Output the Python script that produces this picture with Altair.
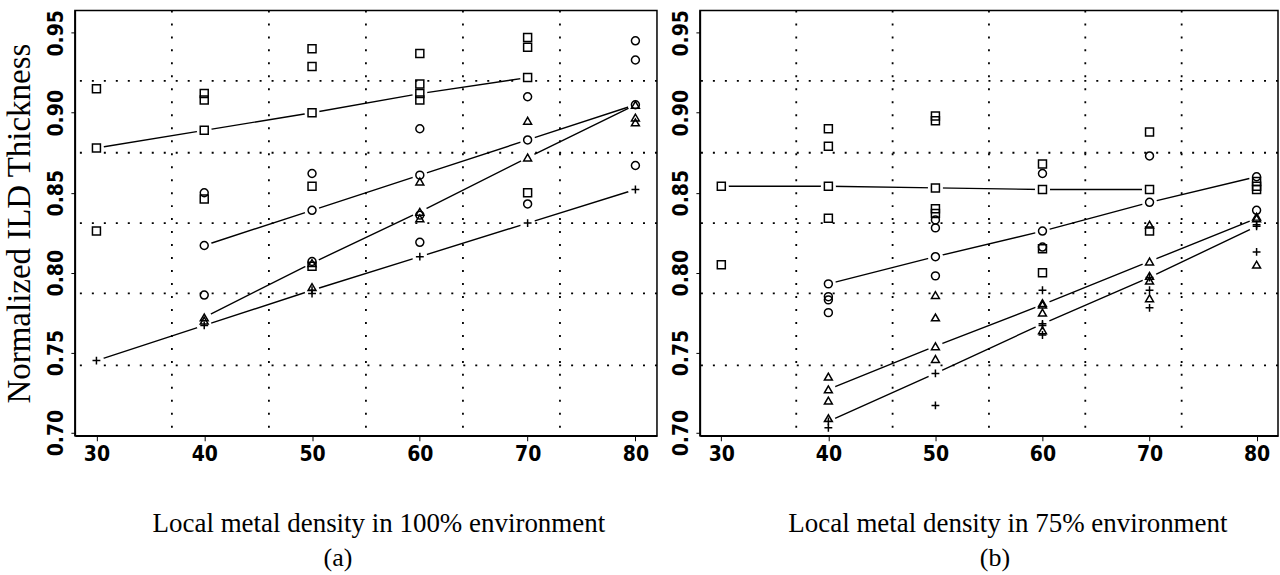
import altair as alt
import pandas as pd

# ---------------- shared axis / grid values ----------------
X_TICKS = [30, 40, 50, 60, 70, 80]
Y_TICKS = [0.70, 0.75, 0.80, 0.85, 0.90, 0.95]
GRID_X = [37, 46, 55, 64, 73]
GRID_Y = [0.742, 0.787, 0.831, 0.875, 0.920]
X_DOMAIN = [28, 82]
Y_DOMAIN = [0.698, 0.964]

SHAPES = ["square", "circle", "triangle", "plus"]

# ---------------- panel (a): 100% environment ----------------
A_SQUARE_FIT_X = [30, 40, 50, 60, 70]
A_SQUARE_FIT_Y = [0.878, 0.889, 0.900, 0.912, 0.922]
A_CIRCLE_FIT_X = [40, 50, 60, 70, 80]
A_CIRCLE_FIT_Y = [0.817, 0.839, 0.861, 0.883, 0.905]
A_TRIANGLE_FIT_X = [40, 50, 60, 70, 80]
A_TRIANGLE_FIT_Y = [0.772, 0.806, 0.838, 0.872, 0.905]
A_PLUS_FIT_X = [30, 40, 50, 60, 70, 80]
A_PLUS_FIT_Y = [0.745, 0.767, 0.789, 0.810, 0.831, 0.852]

A_SQUARE_X = [30, 30, 40, 40, 40, 50, 50, 50, 50, 60, 60, 60, 70, 70, 70]
A_SQUARE_Y = [0.915, 0.826, 0.912, 0.908, 0.846, 0.940, 0.929, 0.854, 0.804,
              0.937, 0.918, 0.908, 0.947, 0.941, 0.850]
A_CIRCLE_X = [40, 40, 50, 50, 60, 60, 60, 70, 70, 80, 80, 80]
A_CIRCLE_Y = [0.850, 0.786, 0.862, 0.807, 0.890, 0.836, 0.819, 0.910, 0.843,
              0.945, 0.933, 0.867]
A_TRIANGLE_X = [40, 50, 60, 60, 70, 80, 80]
A_TRIANGLE_Y = [0.770, 0.791, 0.857, 0.834, 0.895, 0.897, 0.894]
A_PLUS_X = [50]
A_PLUS_Y = [0.787]

# ---------------- panel (b): 75% environment ----------------
B_SQUARE_FIT_X = [30, 40, 50, 60, 70]
B_SQUARE_FIT_Y = [0.854, 0.854, 0.853, 0.852, 0.852]
B_CIRCLE_FIT_X = [40, 50, 60, 70, 80]
B_CIRCLE_FIT_Y = [0.793, 0.810, 0.826, 0.844, 0.860]
B_TRIANGLE_FIT_X = [40, 50, 60, 70, 80]
B_TRIANGLE_FIT_Y = [0.727, 0.754, 0.780, 0.807, 0.834]
B_PLUS_FIT_X = [40, 50, 60, 70, 80]
B_PLUS_FIT_Y = [0.707, 0.737, 0.768, 0.797, 0.829]

B_SQUARE_X = [30, 40, 40, 40, 50, 50, 50, 50, 60, 60, 60, 70, 70, 80, 80, 80]
B_SQUARE_Y = [0.805, 0.890, 0.879, 0.834, 0.898, 0.895, 0.840, 0.837, 0.868,
              0.815, 0.800, 0.888, 0.826, 0.857, 0.854, 0.852]
B_CIRCLE_X = [40, 40, 40, 50, 50, 50, 60, 60, 70, 80]
B_CIRCLE_Y = [0.785, 0.783, 0.775, 0.833, 0.828, 0.798, 0.862, 0.816, 0.873, 0.839]
B_TRIANGLE_X = [40, 40, 40, 50, 50, 50, 60, 60, 60, 70, 70, 70, 70, 80, 80]
B_TRIANGLE_Y = [0.735, 0.720, 0.709, 0.786, 0.772, 0.746, 0.781, 0.775, 0.764,
                0.830, 0.798, 0.795, 0.784, 0.835, 0.805]
B_PLUS_X = [40, 50, 60, 60, 60, 70, 70, 80, 80]
B_PLUS_Y = [0.703, 0.717, 0.789, 0.767, 0.761, 0.789, 0.778, 0.830, 0.813]

# ---------------- styling ----------------
SHAPE_RANGE = ["square", "circle", "triangle-up", "M-1,0L1,0M0,-1L0,1"]
SIZE_RANGE = [64, 62, 72, 100]
TICK_FONT = "Liberation Sans Narrow, DejaVu Sans Condensed, Liberation Sans, Arial"
SERIF = "Liberation Serif, Times New Roman, serif"
PLOT_H = 426


def frame(xs, ys, shape):
    return pd.DataFrame({"x": xs, "y": ys, "s": shape})


def panel(fits, raws, x_title, title_x, label, label_dx, width, y_title):
    fit_df = pd.concat([frame(xs, ys, s) for (xs, ys, s) in fits], ignore_index=True)
    raw_df = pd.concat([frame(xs, ys, s) for (xs, ys, s) in raws], ignore_index=True)

    xscale = alt.Scale(domain=X_DOMAIN, nice=False, zero=False)
    yscale = alt.Scale(domain=Y_DOMAIN, nice=False, zero=False)

    y_axis_kwargs = dict(
        values=Y_TICKS, format=".2f", grid=False,
        labelAngle=270, labelAlign="center", labelBaseline="alphabetic",
        labelFont=TICK_FONT, labelFontSize=21, labelFontWeight="bold",
        labelColor="black", tickSize=4, labelPadding=8,
        tickColor="black", domainColor="black", domainWidth=1.5,
    )
    if y_title:
        y_axis_kwargs.update(
            title=y_title, titleFont=SERIF, titleFontSize=33,
            titleFontWeight="normal", titleColor="black", titleAngle=270,
            titleX=-45, titleY=PLOT_H / 2, titleAlign="center",
            titleBaseline="alphabetic",
        )
    else:
        y_axis_kwargs.update(title=None)
    y_axis = alt.Axis(**y_axis_kwargs)

    x_axis = alt.Axis(
        values=X_TICKS, format="d", grid=False,
        labelFont=TICK_FONT, labelFontSize=21, labelFontWeight="bold",
        labelColor="black", tickSize=5, labelPadding=3,
        tickColor="black", domainColor="black", domainWidth=1.5,
        title=x_title, titleFont=SERIF, titleFontSize=27,
        titleFontWeight="normal", titleColor="black",
        titleX=title_x, titleY=96, titleAlign="center",
        titleBaseline="alphabetic",
    )

    x_ax = alt.X("x:Q", scale=xscale, axis=x_axis)
    y_ax = alt.Y("y:Q", scale=yscale, axis=y_axis)

    vgrid = alt.Chart(pd.DataFrame({"x": GRID_X})).mark_rule(
        color="black", strokeWidth=1.8, strokeDash=[2, 11]
    ).encode(x=x_ax)
    hgrid = alt.Chart(pd.DataFrame({"y": GRID_Y})).mark_rule(
        color="black", strokeWidth=1.8, strokeDash=[2, 10]
    ).encode(y=y_ax)

    lines = alt.Chart(fit_df).mark_line(color="black", strokeWidth=1.4).encode(
        x=x_ax, y=y_ax, detail="s:N"
    )
    halo = alt.Chart(fit_df).mark_point(
        shape="circle", filled=True, fill="white", strokeOpacity=0, opacity=1, size=230
    ).encode(x=x_ax, y=y_ax)

    shape_enc = alt.Shape("s:N", scale=alt.Scale(domain=SHAPES, range=SHAPE_RANGE), legend=None)
    size_enc = alt.Size("s:N", scale=alt.Scale(domain=SHAPES, range=SIZE_RANGE), legend=None)

    raw_pts = alt.Chart(raw_df).mark_point(
        filled=False, color="black", strokeWidth=1.5, opacity=1
    ).encode(x=x_ax, y=y_ax, shape=shape_enc, size=size_enc)
    fit_pts = alt.Chart(fit_df).mark_point(
        filled=False, color="black", strokeWidth=1.5, opacity=1
    ).encode(x=x_ax, y=y_ax, shape=shape_enc, size=size_enc)

    return alt.layer(vgrid, hgrid, lines, halo, raw_pts, fit_pts).properties(
        width=width, height=PLOT_H,
        title=alt.TitleParams(
            label, orient="bottom", anchor="middle", frame="group", dx=label_dx,
            font=SERIF, fontSize=26, fontWeight="normal", color="black", offset=8,
        ),
    )


panel_a = panel(
    fits=[(A_SQUARE_FIT_X, A_SQUARE_FIT_Y, "square"),
          (A_CIRCLE_FIT_X, A_CIRCLE_FIT_Y, "circle"),
          (A_TRIANGLE_FIT_X, A_TRIANGLE_FIT_Y, "triangle"),
          (A_PLUS_FIT_X, A_PLUS_FIT_Y, "plus")],
    raws=[(A_SQUARE_X, A_SQUARE_Y, "square"),
          (A_CIRCLE_X, A_CIRCLE_Y, "circle"),
          (A_TRIANGLE_X, A_TRIANGLE_Y, "triangle"),
          (A_PLUS_X, A_PLUS_Y, "plus")],
    x_title="Local metal density in 100% environment", title_x=304,
    label="(a)", label_dx=-28, width=583, y_title="Normalized ILD Thickness",
)

panel_b = panel(
    fits=[(B_SQUARE_FIT_X, B_SQUARE_FIT_Y, "square"),
          (B_CIRCLE_FIT_X, B_CIRCLE_FIT_Y, "circle"),
          (B_TRIANGLE_FIT_X, B_TRIANGLE_FIT_Y, "triangle"),
          (B_PLUS_FIT_X, B_PLUS_FIT_Y, "plus")],
    raws=[(B_SQUARE_X, B_SQUARE_Y, "square"),
          (B_CIRCLE_X, B_CIRCLE_Y, "circle"),
          (B_TRIANGLE_X, B_TRIANGLE_Y, "triangle"),
          (B_PLUS_X, B_PLUS_Y, "plus")],
    x_title="Local metal density in 75% environment", title_x=308,
    label="(b)", label_dx=6, width=579, y_title=None,
)

chart = alt.hconcat(panel_a, panel_b, spacing=11).properties(
    padding={"left": 3, "top": 8, "right": 0, "bottom": 0},
    background="white",
).configure_view(stroke="black", strokeWidth=1.5)

chart.save("out.html", embed_options={"renderer": "svg", "actions": False})
